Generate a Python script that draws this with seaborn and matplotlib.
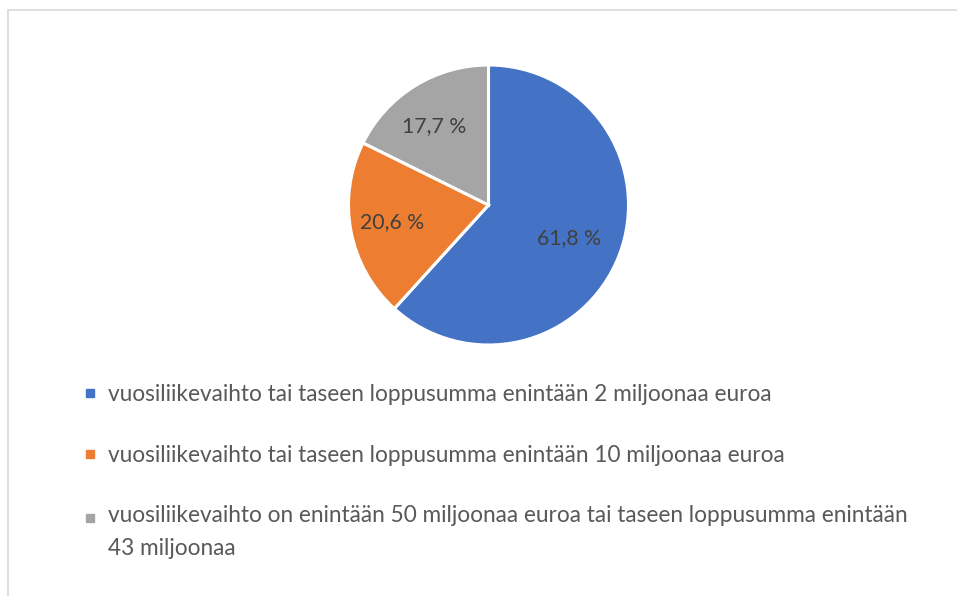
import matplotlib
matplotlib.use("Agg")
import matplotlib.pyplot as plt
import seaborn as sns
from matplotlib.lines import Line2D
from matplotlib.patches import Rectangle

# Data
categories = [
    "vuosiliikevaihto tai taseen loppusumma enintään 2 miljoonaa euroa",
    "vuosiliikevaihto tai taseen loppusumma enintään 10 miljoonaa euroa",
    "vuosiliikevaihto on enintään 50 miljoonaa euroa tai taseen loppusumma enintään\n43 miljoonaa",
]
shares = [61.8, 20.6, 17.7]
colors = ["#4472C4", "#ED7D31", "#A5A5A5"]

sns.set_theme(style="white")
plt.rcParams["font.family"] = ["Lato", "DejaVu Sans"]

W, H = 957, 596
fig = plt.figure(figsize=(W / 100, H / 100), dpi=100)
fig.patch.set_facecolor("white")

# border (chart area frame)
fig.patches.append(Rectangle((8 / W, -0.1), 1.2, (H - 10) / H + 0.1,
                             transform=fig.transFigure, fill=False,
                             edgecolor="#D9D9D9", linewidth=1.2))

total = sum(shares)
cx, cy, r = 488.5, 205, 140
ax = fig.add_axes([(cx - r) / W, 1 - (cy + r) / H, 2 * r / W, 2 * r / H])
wedges, texts, autotexts = ax.pie(
    shares, colors=colors, startangle=90, counterclock=False,
    autopct=lambda p: f"{p * total / 100:.1f} %".replace(".", ","),
    pctdistance=0.66,
    wedgeprops=dict(edgecolor="white", linewidth=2.2),
    textprops=dict(color="#404040", fontsize=15.3),
)
for t in autotexts:
    x, y = t.get_position()
    t.set_position((x - 0.04, y))
ax.set_aspect("equal")
ax.set_xlim(-1, 1)
ax.set_ylim(-1, 1)
ax.axis("off")

handles = [Line2D([0], [0], marker="s", linestyle="none", markersize=6,
                  markerfacecolor=c, markeredgecolor=c) for c in colors]
leg = fig.legend(handles, categories, loc="upper left",
                 bbox_to_anchor=(84 / W, 1 - 384 / H), frameon=False,
                 borderpad=0, borderaxespad=0, handlelength=0.55,
                 handletextpad=0.5, labelspacing=1.75, fontsize=16.3)
for t in leg.get_texts():
    t.set_color("#595959")
    t.set_linespacing(1.7)

# align the marker of the wrapped entry with its first text line
h3 = leg.legend_handles[2]
yd = h3.get_ydata()
h3.set_ydata([v + 10.5 for v in yd])

fig.savefig("out.png", dpi=100, facecolor="white")
